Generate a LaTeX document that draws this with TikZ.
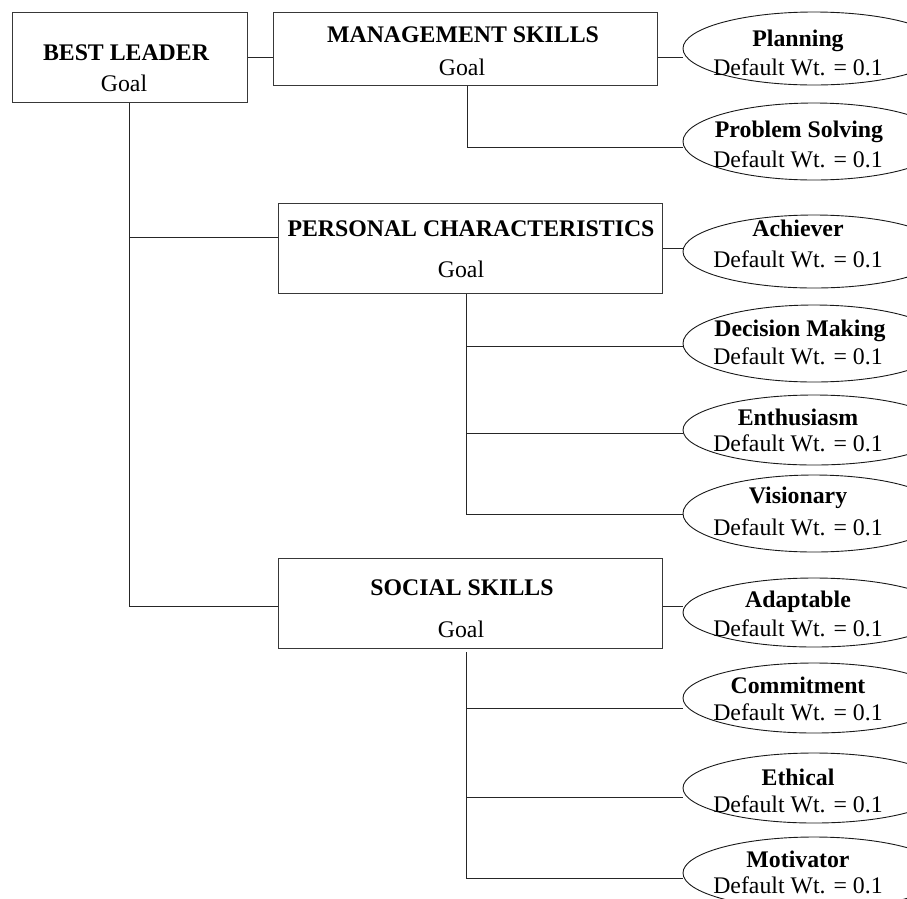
\documentclass[tikz,border=0pt]{standalone}
\usepackage{fontspec}
\setmainfont{Liberation Serif}
\usetikzlibrary{shapes.geometric,backgrounds,calc}
\begin{document}
\begin{tikzpicture}[x=1pt,y=-1pt,
  box/.style={rectangle,draw=black!78,fill=white,line width=0.9pt,inner sep=0pt},
  oval/.style={ellipse,draw=black!90,fill=white,line width=0.9pt,inner sep=0pt,minimum width=262pt},
  conn/.style={draw=black!85,line width=0.9pt},
  ttl/.style={anchor=base,inner sep=0pt,font=\fontsize{23.8}{28}\selectfont\bfseries},
  txt/.style={anchor=base,inner sep=0pt,font=\fontsize{23.8}{28}\selectfont}]
\useasboundingbox (0,0) rectangle (907,898);
\clip (0,0) rectangle (907,898);

% boxes
\node[box,minimum width=235pt,minimum height=90pt] (best) at (129.5,57) {};
\node[box,minimum width=384pt,minimum height=73pt] (mgmt) at (465,48.5) {};
\node[box,minimum width=384pt,minimum height=90pt] (pc) at (470,248) {};
\node[box,minimum width=384pt,minimum height=90pt] (soc) at (470,603) {};

% ellipses
\node[oval,minimum height=73pt] (plan) at (814,48.5) {};
\node[oval,minimum height=77pt] (ps) at (814,141.5) {};
\node[oval,minimum height=73pt] (ach) at (814,251.5) {};
\node[oval,minimum height=77pt] (dm) at (814,343.5) {};
\node[oval,minimum height=70pt] (ent) at (814,430) {};
\node[oval,minimum height=77pt] (vis) at (814,513.5) {};
\node[oval,minimum height=69pt] (ada) at (814,612.5) {};
\node[oval,minimum height=70pt] (com) at (814,698) {};
\node[oval,minimum height=70pt] (eth) at (814,788) {};
\node[oval,minimum height=72pt] (mot) at (814,873) {};

% box texts
\node[ttl] (bestA) at (126,60) {BEST LEADER};
\node[txt] (bestB) at (124,91) {Goal};
\node[ttl] (mgmtA) at (463,42) {MANAGEMENT SKILLS};
\node[txt] (mgmtB) at (462,75) {Goal};
\node[ttl] (pcA) at (471,236) {PERSONAL CHARACTERISTICS};
\node[txt] (pcB) at (461,277) {Goal};
\node[ttl] (socA) at (462,595) {SOCIAL SKILLS};
\node[txt] (socB) at (461,637) {Goal};

% ellipse texts
\node[ttl] (planA) at (798,46) {Planning};
\node[txt] (planB) at (798,75) {Default Wt. = 0.1};
\node[ttl] (psA) at (799,137) {Problem Solving};
\node[txt] (psB) at (798,167) {Default Wt. = 0.1};
\node[ttl] (achA) at (798,236) {Achiever};
\node[txt] (achB) at (798,267) {Default Wt. = 0.1};
\node[ttl] (dmA) at (800,336) {Decision Making};
\node[txt] (dmB) at (798,364) {Default Wt. = 0.1};
\node[ttl] (entA) at (798,425) {Enthusiasm};
\node[txt] (entB) at (798,451) {Default Wt. = 0.1};
\node[ttl] (visA) at (798,503) {Visionary};
\node[txt] (visB) at (798,535) {Default Wt. = 0.1};
\node[ttl] (adaA) at (798,607) {Adaptable};
\node[txt] (adaB) at (798,636) {Default Wt. = 0.1};
\node[ttl] (comA) at (798,693) {Commitment};
\node[txt] (comB) at (798,720) {Default Wt. = 0.1};
\node[ttl] (ethA) at (798,785) {Ethical};
\node[txt] (ethB) at (798,812) {Default Wt. = 0.1};
\node[ttl] (motA) at (798,867) {Motivator};
\node[txt] (motB) at (798,893) {Default Wt. = 0.1};

% junction coordinates
\coordinate (j1) at (129,237);
\coordinate (j2) at (129,606);
\coordinate (v1) at (467,147);
\coordinate (v2) at (466,346);
\coordinate (v3) at (466,433);
\coordinate (v4) at (466,514);
\coordinate (s0) at (466,652);
\coordinate (s1) at (466,708);
\coordinate (s2) at (466,797);
\coordinate (s3) at (466,878);

\begin{pgfonlayer}{background}
\draw[conn] (best.east) -- (best.east -| mgmt.west);
\draw[conn] (best.east -| mgmt.east) -- (best.east -| plan.west);
\draw[conn] (mgmt.south -| v1) -- (v1) -- (v1 -| ps.west);
\draw[conn] (best.south -| j1) -- (j2) -- (j2 -| soc.west);
\draw[conn] (j1) -- (j1 -| pc.west);
\draw[conn] (pc.east) -- (pc.east -| ach.west);
\draw[conn] (pc.south -| v4) -- (v4) -- (v4 -| vis.west);
\draw[conn] (v2) -- (v2 -| dm.west);
\draw[conn] (v3) -- (v3 -| ent.west);
\draw[conn] (j2 -| soc.east) -- (j2 -| ada.west);
\draw[conn] (s0) -- (s3) -- (s3 -| mot.west);
\draw[conn] (s1) -- (s1 -| com.west);
\draw[conn] (s2) -- (s2 -| eth.west);
\end{pgfonlayer}
\end{tikzpicture}
\end{document}
